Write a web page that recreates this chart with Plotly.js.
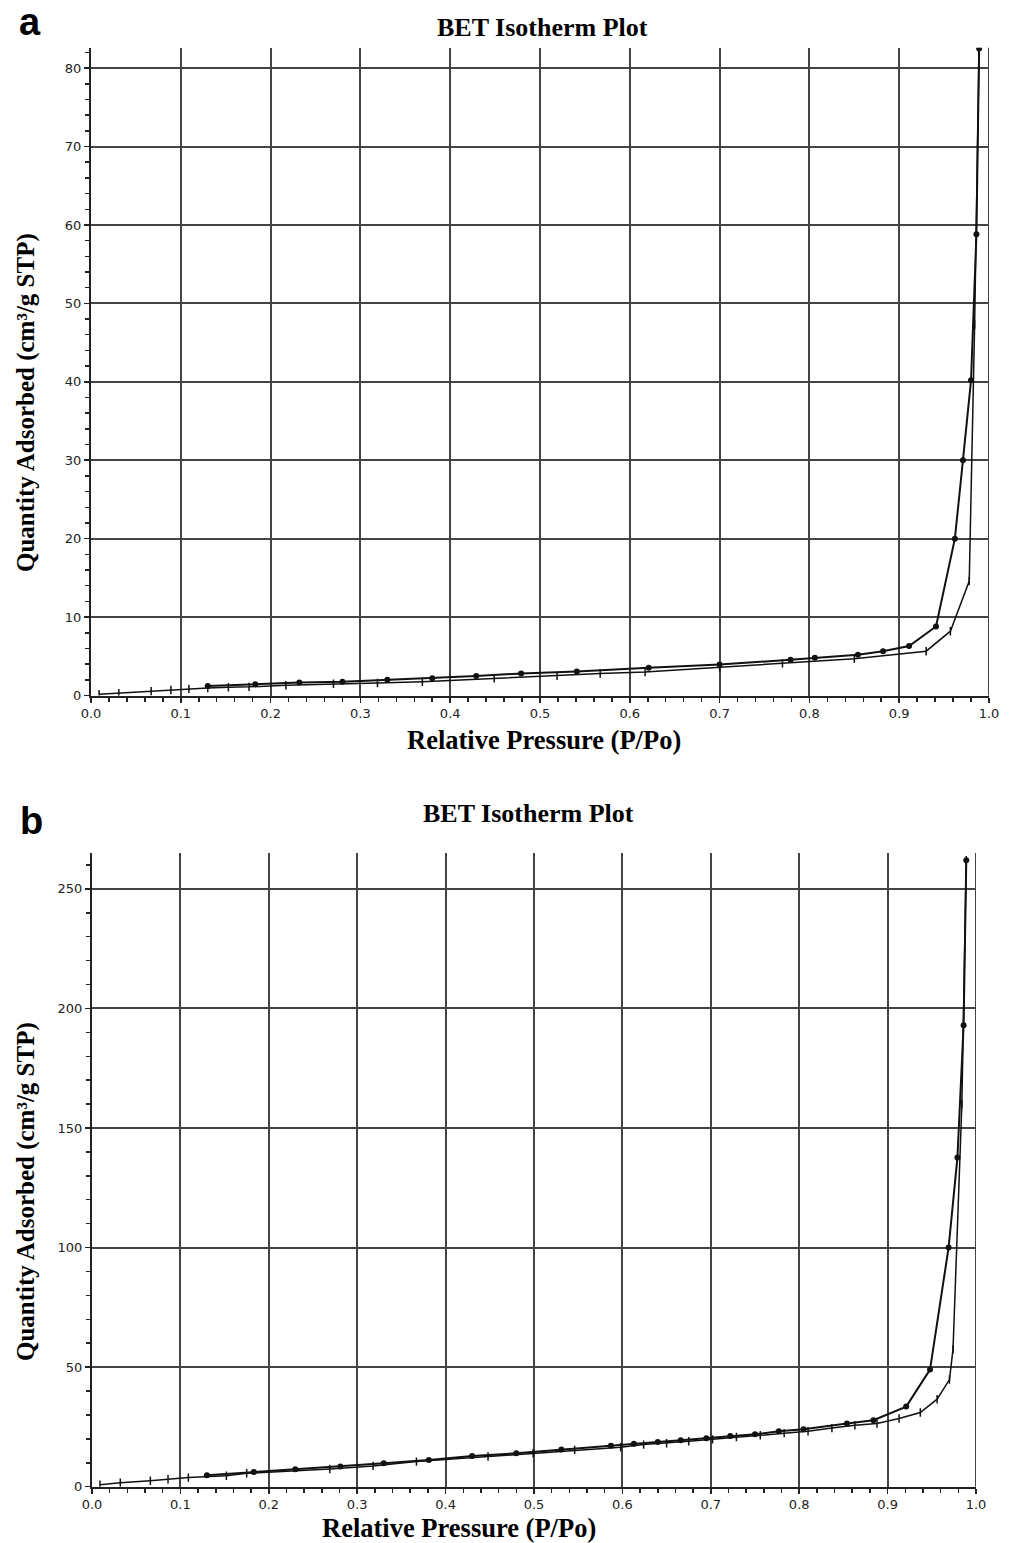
<!DOCTYPE html>
<html>
<head>
<meta charset="utf-8">
<script src="https://cdn.plot.ly/plotly-3.0.1.min.js"></script>
<style>
  html, body { margin: 0; padding: 0; background: #fff; }
  #chart { width: 1013px; height: 1543px; }
</style>
</head>
<body>
<div id="chart"></div>
<script>
// ---------- Panel a data ----------
var aAdsX = [0.009, 0.031, 0.067, 0.089, 0.109, 0.130, 0.153, 0.176, 0.217, 0.270, 0.319, 0.369, 0.449, 0.519, 0.567, 0.617, 0.700, 0.770, 0.850, 0.930, 0.957, 0.978, 0.984, 0.989];
var aAdsY = [0.15, 0.30, 0.55, 0.70, 0.85, 0.95, 1.05, 1.10, 1.30, 1.50, 1.60, 1.75, 2.20, 2.50, 2.80, 3.00, 3.60, 4.10, 4.70, 5.65, 8.20, 14.6, 47.3, 82.5];
var aDesX = [0.130, 0.183, 0.232, 0.280, 0.330, 0.380, 0.429, 0.479, 0.541, 0.621, 0.700, 0.779, 0.806, 0.854, 0.882, 0.911, 0.941, 0.962, 0.971, 0.980, 0.986, 0.989];
var aDesY = [1.20, 1.45, 1.65, 1.75, 2.00, 2.20, 2.50, 2.80, 3.05, 3.55, 3.95, 4.55, 4.80, 5.20, 5.65, 6.30, 8.80, 20.0, 30.0, 40.2, 58.8, 82.5];

// ---------- Panel b data ----------
var bAdsX = [0.009, 0.032, 0.066, 0.086, 0.109, 0.152, 0.175, 0.269, 0.318, 0.367, 0.448, 0.499, 0.546, 0.598, 0.624, 0.650, 0.675, 0.702, 0.729, 0.756, 0.783, 0.810, 0.837, 0.863, 0.888, 0.913, 0.937, 0.956, 0.970, 0.974, 0.984, 0.989];
var bAdsY = [0.8, 1.7, 2.5, 3.1, 3.8, 4.6, 5.6, 7.4, 8.7, 10.5, 12.6, 14.0, 15.4, 16.5, 17.6, 18.2, 19.0, 19.8, 20.8, 21.5, 22.4, 23.2, 24.5, 25.7, 26.4, 28.5, 31.0, 36.6, 44.8, 57.5, 160, 262];
var bDesX = [0.130, 0.183, 0.230, 0.281, 0.330, 0.381, 0.430, 0.480, 0.531, 0.587, 0.613, 0.640, 0.666, 0.695, 0.722, 0.750, 0.777, 0.805, 0.854, 0.884, 0.921, 0.948, 0.969, 0.979, 0.986, 0.989];
var bDesY = [4.8, 6.1, 7.3, 8.4, 9.8, 11.2, 12.8, 14.0, 15.6, 17.1, 18.0, 18.7, 19.4, 20.3, 21.2, 21.9, 23.2, 24.0, 26.4, 27.8, 33.5, 49.0, 100, 137.7, 193, 262];

// ---------- Text ----------
var plotTitle = "BET Isotherm Plot";
var xTitle = "Relative Pressure (P/Po)";
var yTitle = "Quantity Adsorbed (cm³/g STP)";
var panelLetters = ["a", "b"];

var W = 1013, H = 1543;
function px(x) { return x / W; }
function py(y) { return 1 - y / H; }

var ink = '#111';
var gridCol = '#444';
var serif = 'Liberation Serif, Times New Roman, serif';
var sans = 'DejaVu Sans, Arial, sans-serif';

function adsTrace(x, y, xa, ya) {
  return {
    x: x, y: y, xaxis: xa, yaxis: ya, type: 'scatter', mode: 'lines+markers',
    line: {color: ink, width: 1.5},
    marker: {symbol: 'line-ns', size: 6, color: ink, line: {color: ink, width: 1.5}},
    hoverinfo: 'x+y', showlegend: false
  };
}
function desTrace(x, y, xa, ya) {
  return {
    x: x, y: y, xaxis: xa, yaxis: ya, type: 'scatter', mode: 'lines+markers',
    line: {color: ink, width: 2},
    marker: {symbol: 'circle', size: 6, color: ink},
    hoverinfo: 'x+y', showlegend: false
  };
}

var traces = [
  adsTrace(aAdsX, aAdsY, 'x', 'y'),
  desTrace(aDesX, aDesY, 'x', 'y'),
  adsTrace(bAdsX, bAdsY, 'x2', 'y2'),
  desTrace(bDesX, bDesY, 'x2', 'y2')
];

function xAxis(domain, anchor) {
  return {
    domain: domain, anchor: anchor, range: [0, 1], dtick: 0.1, tick0: 0, tickformat: '.1f',
    showgrid: true, gridcolor: gridCol, gridwidth: 2,
    showline: true, linecolor: '#222', linewidth: 2,
    zeroline: false, ticks: 'outside', ticklen: 5, tickcolor: '#222', tickwidth: 1.5,
    tickfont: {family: sans, size: 13, color: '#222'},
    minor: {dtick: 0.02, ticks: 'outside', ticklen: 4, tickcolor: '#222', tickwidth: 1.5, showgrid: false},
    fixedrange: true
  };
}
function yAxis(domain, anchor, range, dtick, minorDtick) {
  return {
    domain: domain, anchor: anchor, range: range, dtick: dtick, tick0: 0,
    showgrid: true, gridcolor: gridCol, gridwidth: 2,
    showline: true, linecolor: '#222', linewidth: 2,
    zeroline: false, ticks: 'outside', ticklen: 5, tickcolor: '#222', tickwidth: 1.5,
    tickfont: {family: sans, size: 13, color: '#222'},
    minor: {dtick: minorDtick, ticks: 'outside', ticklen: 4, tickcolor: '#222', tickwidth: 1.5, showgrid: false},
    fixedrange: true
  };
}

var layout = {
  width: W, height: H,
  margin: {l: 0, r: 0, t: 0, b: 0},
  paper_bgcolor: '#fff', plot_bgcolor: '#fff',
  showlegend: false,
  xaxis: xAxis([px(91), px(989)], 'y'),
  yaxis: yAxis([py(695.5), py(47.7)], 'x', [0, 82.6], 10, 2),
  xaxis2: xAxis([px(92), px(976)], 'y2'),
  yaxis2: yAxis([py(1486.7), py(853)], 'x2', [0, 265], 50, 10),
  shapes: [
    {type: 'line', xref: 'x', yref: 'paper', x0: 1, x1: 1, y0: py(695.5), y1: py(47.7), line: {color: gridCol, width: 2}},
    {type: 'line', xref: 'x2', yref: 'paper', x0: 1, x1: 1, y0: py(1486.7), y1: py(853), line: {color: gridCol, width: 2}}
  ],
  annotations: [
    {text: '<b>' + panelLetters[0] + '</b>', x: px(30), y: py(22), xref: 'paper', yref: 'paper', xanchor: 'center', yanchor: 'middle', showarrow: false, font: {family: 'Liberation Sans, Arial, sans-serif', size: 38, color: '#000'}},
    {text: '<b>' + panelLetters[1] + '</b>', x: px(31), y: py(821), xref: 'paper', yref: 'paper', xanchor: 'center', yanchor: 'middle', showarrow: false, font: {family: 'Liberation Sans, Arial, sans-serif', size: 38, color: '#000'}},
    {text: '<b>' + plotTitle + '</b>', x: px(542), y: py(27), xref: 'paper', yref: 'paper', xanchor: 'center', yanchor: 'middle', showarrow: false, font: {family: serif, size: 26, color: '#000'}},
    {text: '<b>' + plotTitle + '</b>', x: px(528), y: py(813), xref: 'paper', yref: 'paper', xanchor: 'center', yanchor: 'middle', showarrow: false, font: {family: serif, size: 26, color: '#000'}},
    {text: '<b>' + xTitle + '</b>', x: px(544), y: py(740), xref: 'paper', yref: 'paper', xanchor: 'center', yanchor: 'middle', showarrow: false, font: {family: serif, size: 26.5, color: '#000'}},
    {text: '<b>' + xTitle + '</b>', x: px(459), y: py(1528), xref: 'paper', yref: 'paper', xanchor: 'center', yanchor: 'middle', showarrow: false, font: {family: serif, size: 26.5, color: '#000'}},
    {text: '<b>' + yTitle + '</b>', x: px(26), y: py(403), xref: 'paper', yref: 'paper', xanchor: 'center', yanchor: 'middle', textangle: -90, showarrow: false, font: {family: serif, size: 25, color: '#000'}},
    {text: '<b>' + yTitle + '</b>', x: px(26), y: py(1192), xref: 'paper', yref: 'paper', xanchor: 'center', yanchor: 'middle', textangle: -90, showarrow: false, font: {family: serif, size: 25, color: '#000'}}
  ]
};

Plotly.newPlot('chart', traces, layout, {staticPlot: true, displayModeBar: false});
</script>
</body>
</html>
